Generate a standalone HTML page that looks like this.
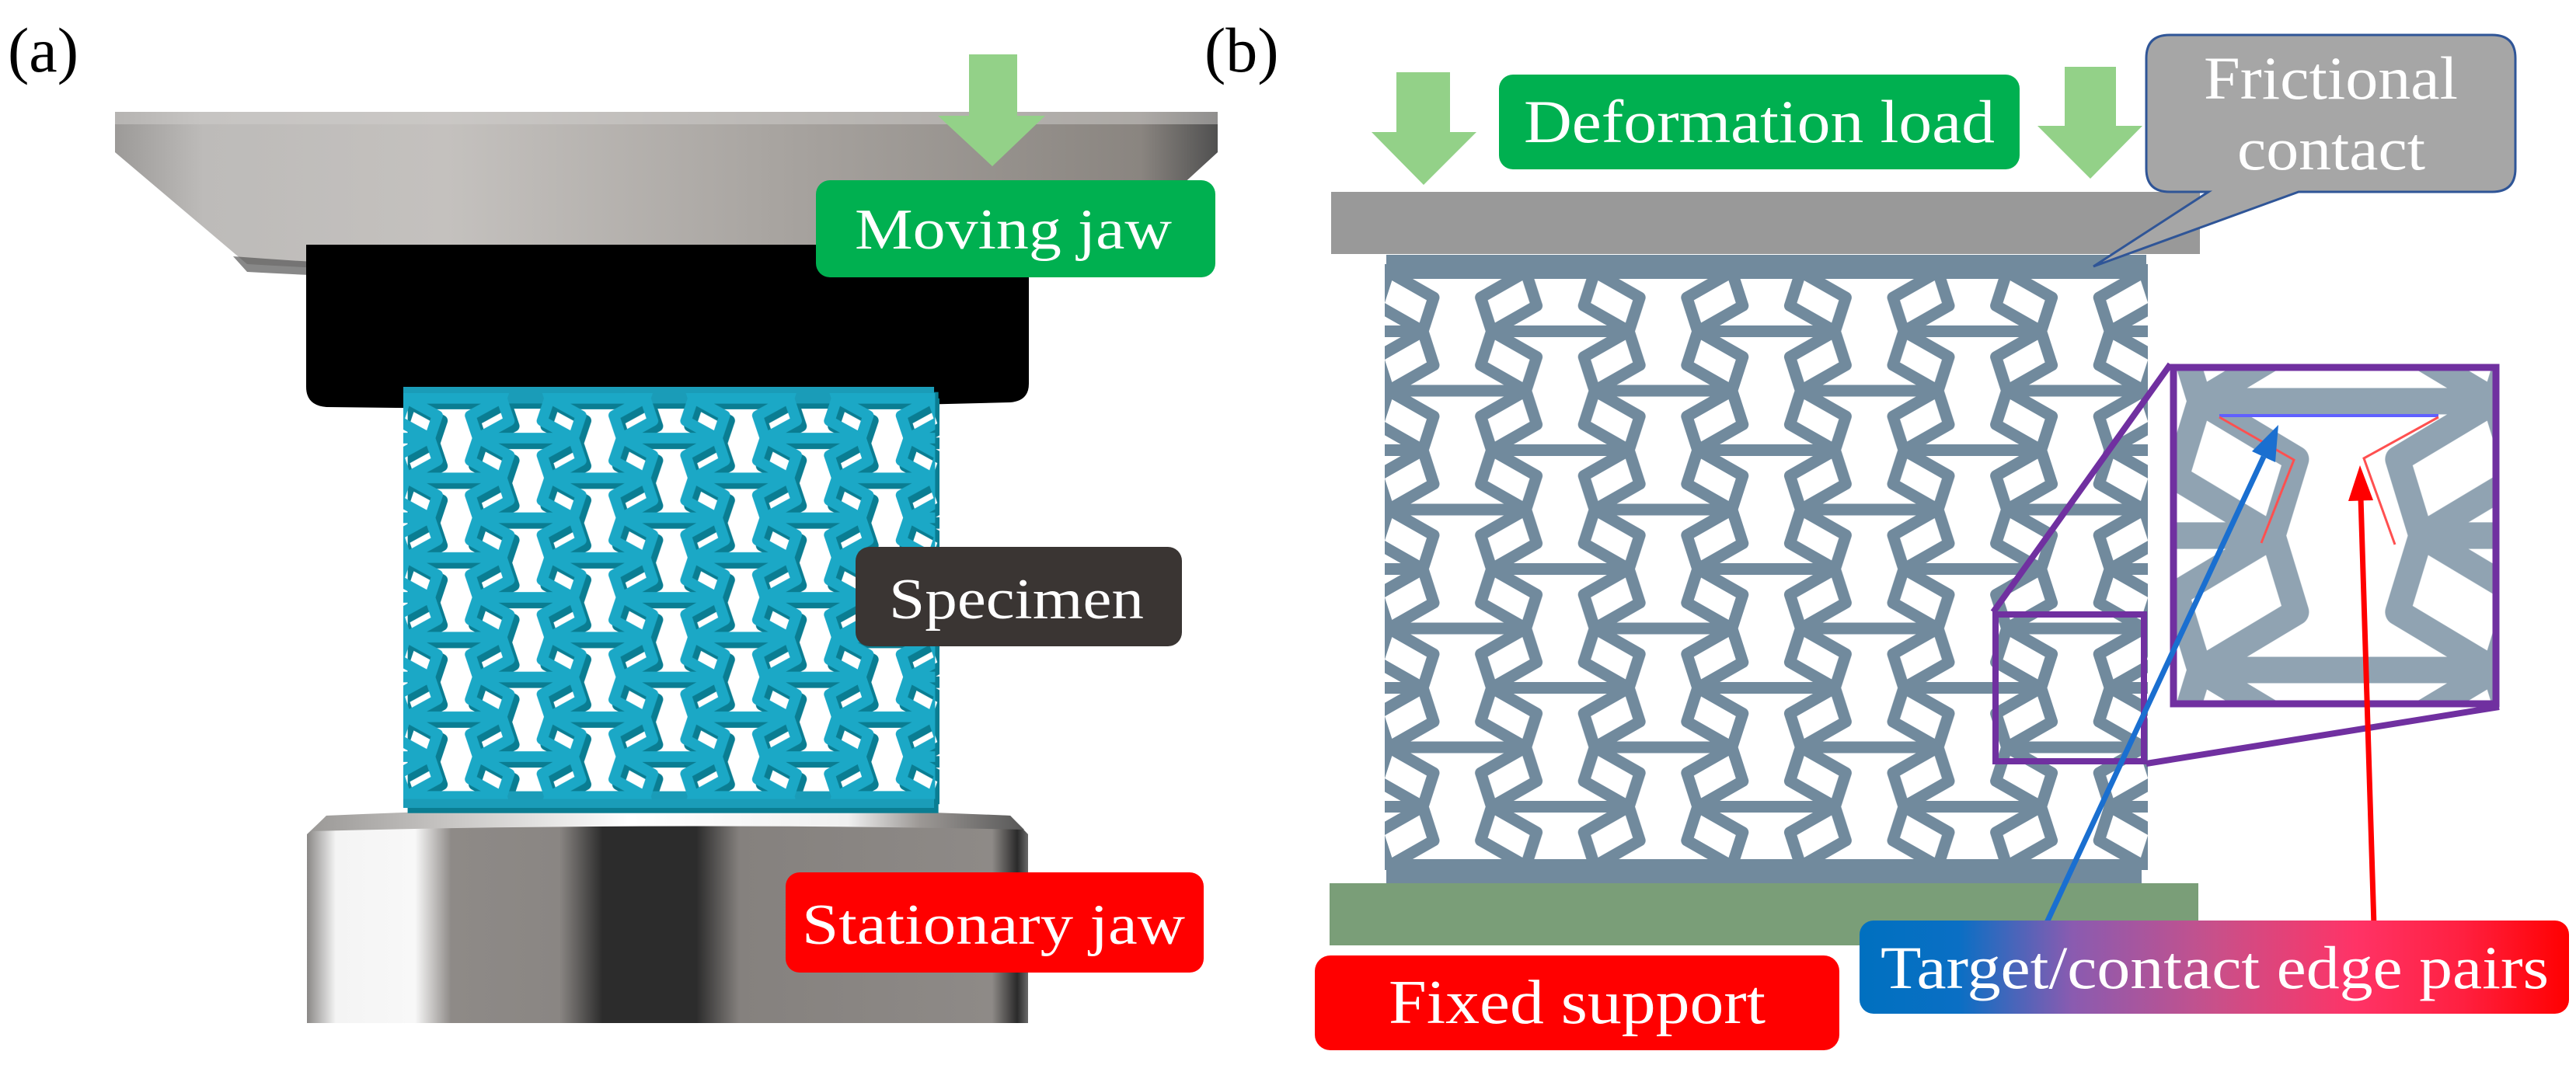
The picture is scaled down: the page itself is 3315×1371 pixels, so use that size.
<!DOCTYPE html>
<html><head><meta charset="utf-8"><style>
html,body{margin:0;padding:0;background:#fff;}
svg{display:block;}
text{font-family:"Liberation Serif",serif;}
</style></head><body>
<svg width="3315" height="1371" viewBox="0 0 3315 1371" xmlns="http://www.w3.org/2000/svg">
<defs>
  <polygon id="cell" points="0,0 176.6,0 118.6,33 132.6,76.5 118.6,120 176.6,153 0,153 58,120 44,76.5 58,33" fill="none"/>
  <g id="tile">
    <use href="#cell" x="0" y="0"/>
    <use href="#cell" x="0" y="-153"/>
    <use href="#cell" x="0" y="153"/>
    <use href="#cell" x="265.2" y="0"/>
    <use href="#cell" x="265.2" y="-153"/>
    <use href="#cell" x="-265.2" y="0"/>
    <use href="#cell" x="132.6" y="76.5"/>
    <use href="#cell" x="132.6" y="-76.5"/>
    <use href="#cell" x="-132.6" y="76.5"/>
    <use href="#cell" x="-132.6" y="-76.5"/>
  </g>
  <pattern id="latG" patternUnits="userSpaceOnUse" x="1787" y="350" width="265.2" height="153">
    <g stroke="#718a9d" stroke-width="15" stroke-linejoin="round"><use href="#tile"/></g>
  </pattern>
  <pattern id="latC" patternUnits="userSpaceOnUse" x="1787" y="350" width="265.2" height="153">
    <g stroke="#1ba8c6" stroke-width="20" stroke-linejoin="round"><use href="#tile"/></g>
  </pattern>
  <pattern id="latD" patternUnits="userSpaceOnUse" x="1787" y="350" width="265.2" height="153">
    <g stroke="#0a7d92" stroke-width="22" stroke-linejoin="round"><use href="#tile"/></g>
  </pattern>
  <clipPath id="latClip"><rect x="1782" y="340" width="982" height="780"/></clipPath>
  <linearGradient id="topJaw" x1="0" x2="1" y1="0" y2="0">
    <stop offset="0" stop-color="#9c9a98"/>
    <stop offset="0.08" stop-color="#bdbbb9"/>
    <stop offset="0.3" stop-color="#c4c1be"/>
    <stop offset="0.6" stop-color="#a8a4a0"/>
    <stop offset="0.93" stop-color="#8a8580"/>
    <stop offset="1" stop-color="#505050"/>
  </linearGradient>
  <linearGradient id="botJaw" x1="395" x2="1323" y1="0" y2="0" gradientUnits="userSpaceOnUse">
    <stop offset="0" stop-color="#8a8886"/>
    <stop offset="0.04" stop-color="#f4f4f4"/>
    <stop offset="0.15" stop-color="#f8f8f8"/>
    <stop offset="0.2" stop-color="#8e8a87"/>
    <stop offset="0.35" stop-color="#8a8683"/>
    <stop offset="0.41" stop-color="#2c2c2c"/>
    <stop offset="0.54" stop-color="#2c2c2c"/>
    <stop offset="0.6" stop-color="#85817e"/>
    <stop offset="0.95" stop-color="#8e8a87"/>
    <stop offset="0.985" stop-color="#2a2a2a"/>
    <stop offset="1" stop-color="#6a6a6a"/>
  </linearGradient>
  <linearGradient id="rim" x1="395" x2="1323" y1="0" y2="0" gradientUnits="userSpaceOnUse">
    <stop offset="0" stop-color="#9a9896"/>
    <stop offset="0.2" stop-color="#c8c6c4"/>
    <stop offset="0.45" stop-color="#ffffff"/>
    <stop offset="0.75" stop-color="#f0f0f0"/>
    <stop offset="0.85" stop-color="#9c9895"/>
    <stop offset="1" stop-color="#555"/>
  </linearGradient>
  <linearGradient id="tcg" x1="2393" x2="3306" y1="0" y2="0" gradientUnits="userSpaceOnUse">
    <stop offset="0" stop-color="#0070c0"/>
    <stop offset="0.14" stop-color="#0a6fc4"/>
    <stop offset="0.3" stop-color="#8a5bb0"/>
    <stop offset="0.5" stop-color="#c8508a"/>
    <stop offset="0.7" stop-color="#ff3366"/>
    <stop offset="0.85" stop-color="#ff2040"/>
    <stop offset="1" stop-color="#ff0000"/>
  </linearGradient>
</defs>

<!-- ===== Panel (a) ===== -->
<text x="10" y="92" font-size="82" fill="#000">(a)</text>

<!-- top jaw -->
<path d="M148,144 H1567 V196 L1412,338 Q862,372 318,340 L148,196 Z" fill="url(#topJaw)"/>
<path d="M148,144 H1567 V160 H148 Z" fill="#d0cecc" opacity="0.5"/>
<path d="M300,330 Q860,372 1420,330 L1412,338 Q862,380 318,350 Z" fill="#555" opacity="0.7"/>
<!-- black block -->
<path d="M394,315 H1324 V494 Q1324,516 1300,518 Q860,530 420,524 Q394,522 394,498 Z" fill="#000"/>

<!-- bottom jaw -->
<path d="M420,1050 Q860,1036 1300,1050 L1323,1074 V1317 H395 V1074 Z" fill="url(#botJaw)"/>
<path d="M420,1050 Q860,1030 1300,1050 L1318,1068 Q860,1058 400,1070 Z" fill="url(#rim)"/>

<!-- specimen -->
<g transform="translate(519,498) scale(0.697,0.67) translate(-1782,-328)">
  <g transform="translate(8,10)">
    <rect x="1782" y="328" width="980" height="32" fill="#0a7d92"/>
    <rect x="1782" y="1105" width="980" height="32" fill="#0a7d92"/>
    <rect x="1782" y="340" width="982" height="780" fill="url(#latD)" clip-path="url(#latClip)"/>
  </g>
  <rect x="1782" y="328" width="980" height="32" fill="#1a9cb8"/>
  <rect x="1782" y="1105" width="980" height="32" fill="#1a9cb8"/>
  <rect x="1782" y="340" width="982" height="780" fill="url(#latC)" clip-path="url(#latClip)"/>
</g>

<!-- arrow (a) -->
<polygon points="1247,70 1309,70 1309,149 1345,149 1277,214 1207,149 1247,149" fill="#93d188"/>

<!-- labels (a) -->
<rect x="1050" y="232" width="514" height="125" rx="18" fill="#00b050"/>
<text x="1100" y="320" font-size="74" fill="#fff" textLength="408" lengthAdjust="spacingAndGlyphs">Moving jaw</text>
<rect x="1101" y="704" width="420" height="128" rx="18" fill="#3a3533"/>
<text x="1144" y="796" font-size="74" fill="#fff" textLength="328" lengthAdjust="spacingAndGlyphs">Specimen</text>
<rect x="1011" y="1123" width="538" height="129" rx="18" fill="#ff0000"/>
<text x="1032" y="1215" font-size="74" fill="#fff" textLength="493" lengthAdjust="spacingAndGlyphs">Stationary jaw</text>

<!-- ===== Panel (b) ===== -->
<text x="1550" y="92" font-size="82" fill="#000">(b)</text>

<!-- arrows -->
<polygon points="1797,93 1866,93 1866,170 1900,170 1832,238 1765,170 1797,170" fill="#93d188"/>
<polygon points="2657,86 2723,86 2723,162 2757,162 2690,230 2622,162 2657,162" fill="#93d188"/>
<rect x="1929" y="96" width="670" height="122" rx="18" fill="#00b050"/>
<text x="1961" y="183" font-size="78" fill="#fff" textLength="606" lengthAdjust="spacingAndGlyphs">Deformation load</text>

<!-- plates -->
<rect x="1713" y="247" width="1118" height="80" fill="#999999"/>
<rect x="1784" y="328" width="978" height="31" fill="#718a9d"/>
<rect x="1784" y="1106" width="972" height="31" fill="#718a9d"/>
<rect x="1782" y="340" width="982" height="780" fill="url(#latG)" clip-path="url(#latClip)"/>
<rect x="1711" y="1137" width="1118" height="80" fill="#7a9e78"/>

<!-- callout -->
<path d="M2792,45 H3207 Q3237,45 3237,75 V217 Q3237,247 3207,247 H2958 L2694,343 L2842,247 H2792 Q2762,247 2762,217 V75 Q2762,45 2792,45 Z" fill="#a6a6a6" stroke="#2f5597" stroke-width="3"/>
<text x="2836" y="127" font-size="78" fill="#fff" textLength="327" lengthAdjust="spacingAndGlyphs">Frictional</text>
<text x="2879" y="218" font-size="78" fill="#fff" textLength="242" lengthAdjust="spacingAndGlyphs">contact</text>

<!-- zoom box + inset -->
<line x1="2565" y1="788" x2="2793" y2="469" stroke="#7030a0" stroke-width="8"/>
<line x1="2762" y1="983" x2="3216" y2="910" stroke="#7030a0" stroke-width="8"/>
<rect x="2568" y="791" width="191" height="189" fill="none" stroke="#7030a0" stroke-width="8"/>
<rect x="2793" y="469" width="423" height="441" fill="#fff"/>
<svg x="2793" y="469" width="423" height="441" viewBox="2565 788 197 195" preserveAspectRatio="none">
  <g opacity="0.78">
    <rect x="1782" y="340" width="982" height="780" fill="url(#latG)" clip-path="url(#latClip)"/>
  </g>
</svg>
<polyline points="2856,535 3138,535" fill="none" stroke="#6060ff" stroke-width="4"/>
<polyline points="2856,537 2952,592 2910,699" fill="none" stroke="#ff5050" stroke-width="3"/>
<polyline points="3138,537 3042,590 3082,701" fill="none" stroke="#ff5050" stroke-width="3"/>
<rect x="2797" y="473" width="415" height="433" fill="none" stroke="#7030a0" stroke-width="9"/>

<!-- arrows to inset -->
<line x1="2631" y1="1194" x2="2913" y2="588" stroke="#1a6fd0" stroke-width="7"/>
<polygon points="2932,547 2928,595 2898,581" fill="#1a6fd0"/>
<line x1="3055" y1="1192" x2="3038" y2="640" stroke="#ff0000" stroke-width="7"/>
<polygon points="3037,599 3054,644 3022,645" fill="#ff0000"/>

<!-- bottom labels -->
<rect x="1692" y="1230" width="675" height="122" rx="20" fill="#ff0000"/>
<text x="1787" y="1317" font-size="80" fill="#fff" textLength="485" lengthAdjust="spacingAndGlyphs">Fixed support</text>
<rect x="2393" y="1185" width="913" height="120" rx="18" fill="url(#tcg)"/>
<text x="2420" y="1272" font-size="78" fill="#fff" textLength="860" lengthAdjust="spacingAndGlyphs">Target/contact edge pairs</text>
</svg>
</body></html>
